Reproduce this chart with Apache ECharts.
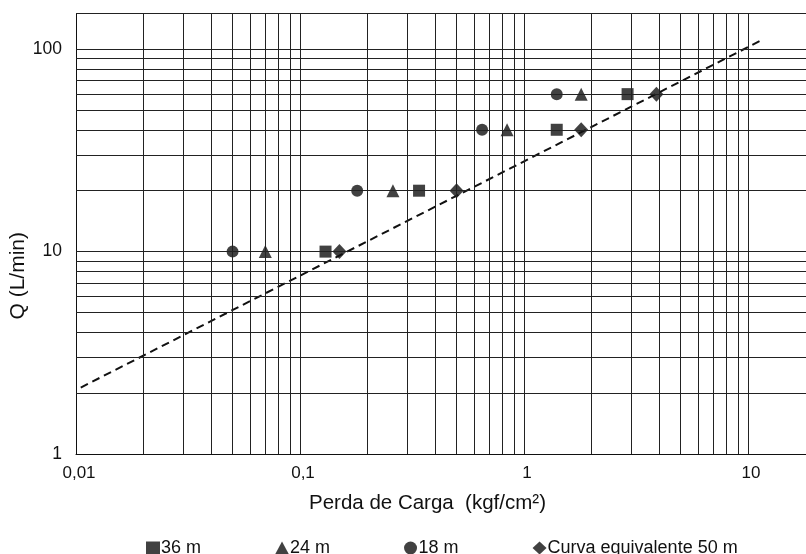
<!DOCTYPE html>
<html>
<head>
<meta charset="utf-8">
<script src="https://cdn.jsdelivr.net/npm/echarts@6/dist/echarts.min.js"></script>
<style>
  html, body { margin: 0; padding: 0; background: #fff; }
  #chart { width: 806px; height: 554px; }
</style>
</head>
<body>
<div id="chart"></div>
<script>
// pontos medidos (perda de carga kgf/cm², vazão L/min)
var serie36 = [[0.13, 10], [0.34, 20], [1.4, 40], [2.9, 60]]
var serie24 = [[0.07, 10], [0.26, 20], [0.84, 40], [1.8, 60]]
var serie18 = [[0.05, 10], [0.18, 20], [0.65, 40], [1.4, 60]]
var curva50 = [[0.15, 10], [0.5, 20], [1.8, 40], [3.9, 60]]
// linha de tendência tracejada (extremos)
var tendencia = [[0.0105, 2.13], [11.7, 112]]

var seriesNames = ['36 m', '24 m', '18 m', 'Curva equivalente 50 m']

// linhas de grade (escala logarítmica)
var xGridLines = [0.02, 0.03, 0.04, 0.05, 0.06, 0.07, 0.08, 0.09, 0.1,
  0.2, 0.3, 0.4, 0.5, 0.6, 0.7, 0.8, 0.9, 1,
  2, 3, 4, 5, 6, 7, 8, 9, 10]
var yGridLines = [2, 3, 4, 5, 6, 7, 8, 9, 10,
  20, 30, 40, 50, 60, 70, 80, 90, 100, 150]
var xTickLabels = [0.01, 0.1, 1, 10]
var yTickLabels = [1, 10, 100]

var FONT = 'Liberation Sans, Arial, sans-serif'
var INK = '#111'

function isTick(v, list) {
  for (var i = 0; i < list.length; i++) {
    if (Math.abs(v - list[i]) < list[i] * 1e-6) return true
  }
  return false
}
function fmt(v) {
  return String(Number(v.toPrecision(6))).replace('.', ',')
}

var chart = echarts.init(document.getElementById('chart'), null, { renderer: 'canvas' })

var option = {
  animation: false,
  backgroundColor: '#fff',
  textStyle: { fontFamily: FONT, color: INK },
  grid: {
    left: 76,
    right: 0,
    top: 13.6,
    bottom: 100,
    containLabel: false
  },
  legend: {
    data: seriesNames,
    left: 141,
    top: 534,
    itemGap: 74,
    itemWidth: 14,
    itemHeight: 13,
    textStyle: { fontFamily: FONT, fontSize: 18, color: INK, padding: [0, 0, 0, -4] }
  },
  graphic: [
    {
      type: 'text',
      left: 309,
      top: 493,
      style: { text: 'Perda de Carga  (kgf/cm²)', font: '20.5px ' + FONT, fill: INK }
    },
    {
      type: 'text',
      left: 8,
      top: 232,
      rotation: Math.PI / 2,
      style: { text: 'Q (L/min)', font: '21px ' + FONT, fill: INK }
    }
  ],
  xAxis: {
    type: 'log',
    logBase: 10,
    min: 0.01,
    max: 18.15,
    axisLine: { show: true, lineStyle: { color: INK, width: 1 } },
    axisTick: { show: false },
    splitLine: { show: false },
    axisLabel: {
      margin: 11,
      fontSize: 17,
      fontFamily: FONT,
      color: INK,
      padding: [0, 0, 0, 6],
      showMaxLabel: false,
      formatter: function (v) { return isTick(v, xTickLabels) ? fmt(v) : '' }
    }
  },
  yAxis: {
    type: 'log',
    logBase: 10,
    min: 1,
    max: 150,
    axisLine: { show: true, lineStyle: { color: INK, width: 1 } },
    axisTick: { show: false },
    splitLine: { show: false },
    axisLabel: {
      margin: 14,
      fontSize: 17.5,
      fontFamily: FONT,
      color: INK,
      showMaxLabel: false,
      formatter: function (v) { return isTick(v, yTickLabels) ? fmt(v) : '' }
    }
  },
  series: [
    {
      name: 'Tendência',
      type: 'line',
      data: tendencia,
      symbol: 'none',
      z: 2,
      lineStyle: { color: INK, width: 2, type: [8, 5] },
      markLine: {
        silent: true,
        symbol: ['none', 'none'],
        label: { show: false },
        lineStyle: { color: '#222', width: 1, type: 'solid' },
        emphasis: { disabled: true },
        data: xGridLines.map(function (v) { return { xAxis: v } })
          .concat(yGridLines.map(function (v) { return { yAxis: v } }))
      }
    },
    {
      name: '36 m',
      type: 'scatter',
      data: serie36,
      symbol: 'rect',
      symbolSize: 12,
      z: 3,
      itemStyle: { color: INK }
    },
    {
      name: '24 m',
      type: 'scatter',
      data: serie24,
      symbol: 'triangle',
      symbolSize: 13,
      z: 3,
      itemStyle: { color: INK }
    },
    {
      name: '18 m',
      type: 'scatter',
      data: serie18,
      symbol: 'circle',
      symbolSize: 12,
      z: 3,
      itemStyle: { color: INK }
    },
    {
      name: 'Curva equivalente 50 m',
      type: 'scatter',
      data: curva50,
      symbol: 'diamond',
      symbolSize: [14, 15],
      z: 3,
      itemStyle: { color: INK }
    }
  ]
}

chart.setOption(option)
</script>
</body>
</html>
